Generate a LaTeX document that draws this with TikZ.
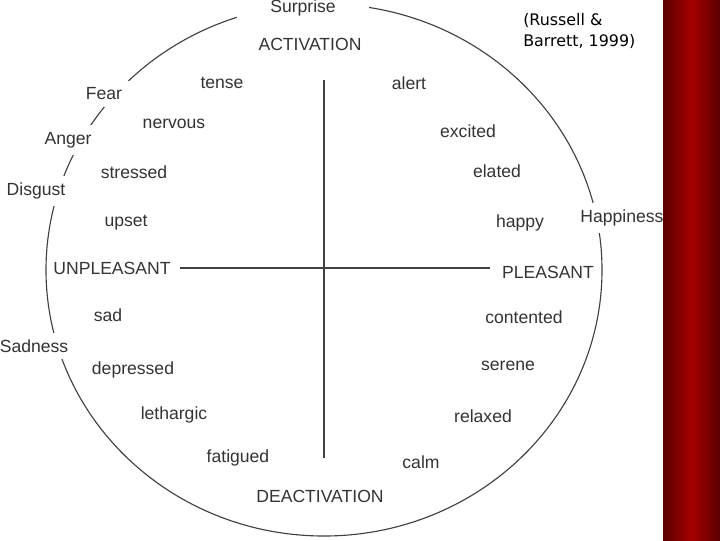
\documentclass[tikz,border=0pt]{standalone}
\usepackage{fontspec}
\setmainfont{Liberation Sans}
\newfontfamily\citefont{DejaVu Sans}
\begin{document}
\begin{tikzpicture}[x=0.025cm,y=-0.025cm,
  word/.style={font=\fontsize{12.5}{14}\selectfont,text=black!80,inner sep=1pt},
  rim/.style={word,fill=white,inner xsep=8pt,inner ysep=5pt}]
\useasboundingbox (0,0) rectangle (720,540);
\draw[black!75,line width=0.8pt] (324,270) ellipse (278 and 266);
\draw[black!75,line width=0.8pt] (324,80) -- (324,458);
\draw[black!75,line width=0.8pt] (180,268) -- (490,268);
% emotions on the rim
\path
(303,8)   node[rim,inner xsep=24pt] (surprise) {Surprise}
(104,94)  node[rim] (fear) {Fear}
(68,140)  node[rim] (anger) {Anger}
(36,191)  node[rim] (disgust) {Disgust}
(622,218) node[rim,inner xsep=4pt] (happiness) {Happiness}
(34,346)  node[rim] (sadness) {Sadness};
\shade[left color=red!35!black,right color=red!35!black,middle color=red!65!black] (663,0) rectangle (720,540);
% inner words
\path
(310,44)  node[word] (act) {ACTIVATION}
(320,496) node[word] (deact) {DEACTIVATION}
(112,268) node[word] (unpl) {UNPLEASANT}
(548,272) node[word] (pl) {PLEASANT}
(222,83)  node[word] (tense) {tense}
(409,83)  node[word] (alert) {alert}
(174,124) node[word] (nervous) {nervous}
(468,131) node[word] (excited) {excited}
(134,172) node[word] (stressed) {stressed}
(497,171) node[word] (elated) {elated}
(126,223) node[word] (upset) {upset}
(520,223) node[word] (happy) {happy}
(108,315) node[word] (sad) {sad}
(524,317) node[word] (contented) {contented}
(133,370) node[word] (depressed) {depressed}
(508,366) node[word] (serene) {serene}
(174,415) node[word] (lethargic) {lethargic}
(483,416) node[word] (relaxed) {relaxed}
(238,458) node[word] (fatigued) {fatigued}
(421,462) node[word] (calm) {calm};
\node[anchor=north west,align=left,inner sep=0pt,font=\citefont\fontsize{11.3}{15}\selectfont] (cite) at (523,13) {(Russell \&\\Barrett, 1999)};
\end{tikzpicture}
\end{document}
